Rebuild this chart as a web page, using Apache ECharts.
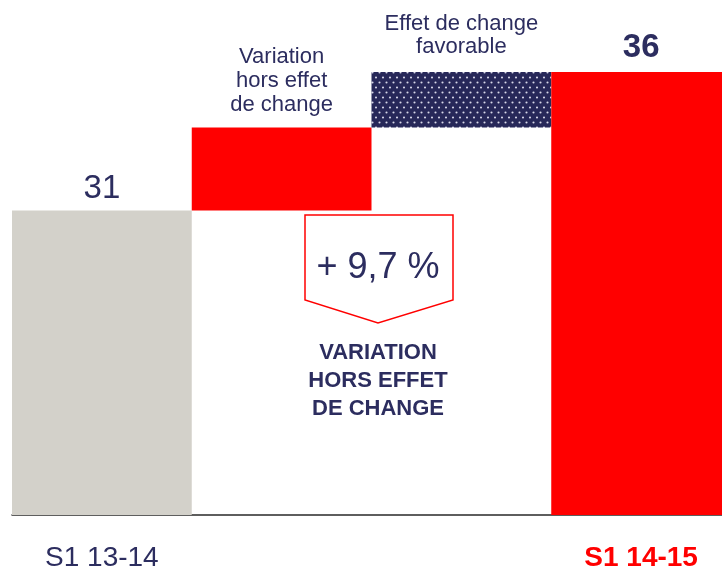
<!DOCTYPE html>
<html>
<head>
<meta charset="utf-8">
<script src="https://cdn.jsdelivr.net/npm/echarts@6/dist/echarts.min.js"></script>
<style>
  html, body { margin: 0; padding: 0; background: #fff; }
  #main { width: 722px; height: 572px; }
</style>
</head>
<body>
<div id="main"></div>
<script>
// données du graphique (waterfall S1 13-14 -> S1 14-15)
const categories = ['S1 13-14', 'Variation', 'Change', 'S1 14-15'];
const axisLabels = ['S1 13-14', '', '', 'S1 14-15'];
const steps = [31, 3, 2, 36];
const bases = ['-', 31, 34, '-'];
const annotations = ['31', 'Variation\nhors effet\nde change', 'Effet de change\nfavorable', '36'];

const NAVY = '#2c2d5f';
const RED = '#ff0000';
const GREY = '#d3d1ca';
const FONT = 'Liberation Sans, Arial, sans-serif';

// motif pointillé pour l'effet de change
let makeDots = function () {
    let c = document.createElement('canvas');
    c.width = 7; c.height = 10;
    let ctx = c.getContext('2d');
    ctx.fillStyle = '#272859';
    ctx.fillRect(0, 0, 7, 10);
    ctx.fillStyle = 'rgba(225,225,240,0.95)';
    ctx.beginPath(); ctx.arc(1.5, 2.5, 1.05, 0, Math.PI * 2); ctx.fill();
    ctx.beginPath(); ctx.arc(5, 7.5, 1.05, 0, Math.PI * 2); ctx.fill();
    return c;
};

let colors = [GREY, RED, { image: makeDots(), repeat: 'repeat' }, RED];
let labelStyles = [
    { fontSize: 33, fontWeight: 'normal', distance: 5, lineHeight: 33 },
    { fontSize: 22, fontWeight: 'normal', distance: 10, lineHeight: 24 },
    { fontSize: 22, fontWeight: 'normal', distance: 14, lineHeight: 23 },
    { fontSize: 33, fontWeight: 'bold', distance: 8, lineHeight: 33 }
];

let valueData = steps.map((v, i) => ({
    value: v,
    itemStyle: { color: colors[i] },
    label: Object.assign({
        show: true,
        position: 'top',
        color: NAVY,
        fontFamily: FONT,
        formatter: annotations[i]
    }, labelStyles[i])
}));

let myChart = echarts.init(document.getElementById('main'));

let option = {
    animation: false,
    grid: { left: 12, width: 719, top: 72, bottom: 57, outerBoundsMode: 'none', containLabel: false },
    xAxis: {
        type: 'category',
        data: categories,
        axisTick: { show: false },
        axisLine: { lineStyle: { color: '#2a2a2a', width: 1.5 } },
        axisLabel: {
            interval: 0,
            hideOverlap: false,
            margin: 29,
            fontFamily: FONT,
            fontSize: 28,
            formatter: function (v, i) {
                return i === 3 ? '{r|' + axisLabels[i] + '}' : '{n|' + axisLabels[i] + '}';
            },
            rich: {
                n: { color: NAVY, fontSize: 28, fontFamily: FONT },
                r: { color: RED, fontSize: 28, fontWeight: 'bold', fontFamily: FONT }
            }
        }
    },
    yAxis: {
        type: 'value',
        min: 20,
        max: 36,
        show: false,
        splitLine: { show: false }
    },
    series: [
        {
            type: 'bar',
            stack: 'w',
            data: bases,
            barWidth: '100%',
            itemStyle: { color: 'transparent' },
            silent: true
        },
        {
            type: 'bar',
            stack: 'w',
            data: valueData,
            barWidth: '100%'
        }
    ],
    graphic: [
        {
            type: 'polygon',
            shape: { points: [[305, 215], [453, 215], [453, 300], [378, 323], [305, 300]] },
            style: { fill: '#fff', stroke: RED, lineWidth: 1.5 }
        },
        {
            type: 'text',
            x: 378, y: 268,
            style: {
                text: '+ 9,7 %', fill: NAVY, font: '36px ' + FONT,
                align: 'center', verticalAlign: 'middle'
            }
        },
        {
            type: 'text',
            x: 378, y: 339,
            style: {
                text: 'VARIATION\nHORS EFFET\nDE CHANGE',
                fill: NAVY,
                font: 'bold 22px ' + FONT,
                lineHeight: 28,
                align: 'center'
            }
        }
    ]
};

myChart.setOption(option);
</script>
</body>
</html>
